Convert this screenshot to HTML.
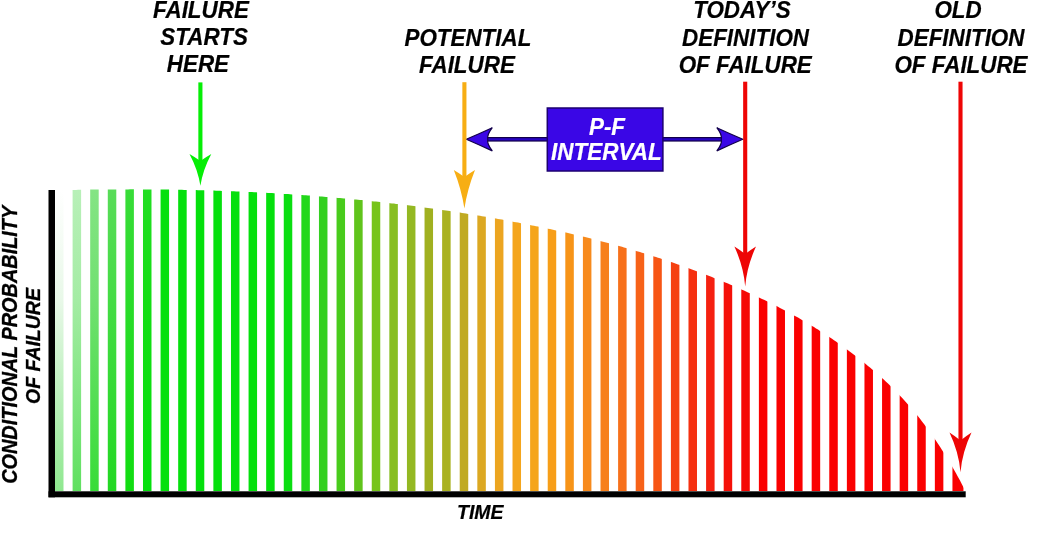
<!DOCTYPE html>
<html><head><meta charset="utf-8"><style>
html,body{margin:0;padding:0;background:#fff;width:1042px;height:540px;overflow:hidden}
svg{display:block;will-change:transform}
</style></head><body>
<svg width="1042" height="540" viewBox="0 0 1042 540">
<defs>
<linearGradient id="gb0" gradientUnits="userSpaceOnUse" x1="0" y1="190" x2="0" y2="490"><stop offset="0" stop-color="#ffffff"/><stop offset="0.37" stop-color="#e8f8e8"/><stop offset="1" stop-color="#90e890"/></linearGradient><linearGradient id="gb1" gradientUnits="userSpaceOnUse" x1="0" y1="190" x2="0" y2="490"><stop offset="0" stop-color="#b8f0b8"/><stop offset="0.37" stop-color="#a4eca4"/><stop offset="1" stop-color="#60e060"/></linearGradient><linearGradient id="gb2" gradientUnits="userSpaceOnUse" x1="0" y1="190" x2="0" y2="490"><stop offset="0" stop-color="#84e484"/><stop offset="0.37" stop-color="#70e070"/><stop offset="1" stop-color="#38dc38"/></linearGradient><linearGradient id="gb3" gradientUnits="userSpaceOnUse" x1="0" y1="190" x2="0" y2="490"><stop offset="0" stop-color="#58dc58"/><stop offset="0.37" stop-color="#44dc44"/><stop offset="1" stop-color="#22d822"/></linearGradient><linearGradient id="gb4" gradientUnits="userSpaceOnUse" x1="0" y1="190" x2="0" y2="490"><stop offset="0" stop-color="#38dc38"/><stop offset="0.37" stop-color="#2adc2a"/><stop offset="1" stop-color="#11dd11"/></linearGradient><linearGradient id="gb5" gradientUnits="userSpaceOnUse" x1="0" y1="190" x2="0" y2="490"><stop offset="0" stop-color="#22de22"/><stop offset="0.37" stop-color="#14de14"/><stop offset="1" stop-color="#04e00c"/></linearGradient>
<clipPath id="cc"><path d="M40,150 L40,190.7 L40.0,190.7 L42.0,190.6 L44.0,190.6 L46.0,190.5 L48.0,190.5 L50.0,190.4 L52.0,190.4 L54.0,190.3 L56.0,190.3 L58.0,190.2 L60.0,190.2 L62.0,190.1 L64.0,190.1 L66.0,190.1 L68.0,190.0 L70.0,190.0 L72.0,189.9 L74.0,189.9 L76.0,189.9 L78.0,189.8 L80.0,189.8 L82.0,189.8 L84.0,189.7 L86.0,189.7 L88.0,189.7 L90.0,189.6 L92.0,189.6 L94.0,189.6 L96.0,189.6 L98.0,189.5 L100.0,189.5 L102.0,189.5 L104.0,189.5 L106.0,189.5 L108.0,189.4 L110.0,189.4 L112.0,189.4 L114.0,189.4 L116.0,189.4 L118.0,189.4 L120.0,189.4 L122.0,189.4 L124.0,189.4 L126.0,189.4 L128.0,189.4 L130.0,189.3 L132.0,189.3 L134.0,189.3 L136.0,189.4 L138.0,189.4 L140.0,189.4 L142.0,189.4 L144.0,189.4 L146.0,189.4 L148.0,189.4 L150.0,189.4 L152.0,189.4 L154.0,189.4 L156.0,189.5 L158.0,189.5 L160.0,189.5 L162.0,189.5 L164.0,189.5 L166.0,189.6 L168.0,189.6 L170.0,189.6 L172.0,189.6 L174.0,189.7 L176.0,189.7 L178.0,189.7 L180.0,189.8 L182.0,189.8 L184.0,189.9 L186.0,189.9 L188.0,189.9 L190.0,190.0 L192.0,190.0 L194.0,190.1 L196.0,190.1 L198.0,190.2 L200.0,190.2 L202.0,190.3 L204.0,190.3 L206.0,190.4 L208.0,190.4 L210.0,190.5 L212.0,190.5 L214.0,190.6 L216.0,190.7 L218.0,190.7 L220.0,190.8 L222.0,190.9 L224.0,190.9 L226.0,191.0 L228.0,191.1 L230.0,191.2 L232.0,191.2 L234.0,191.3 L236.0,191.4 L238.0,191.5 L240.0,191.6 L242.0,191.7 L244.0,191.7 L246.0,191.8 L248.0,191.9 L250.0,192.0 L252.0,192.1 L254.0,192.2 L256.0,192.3 L258.0,192.4 L260.0,192.5 L262.0,192.6 L264.0,192.7 L266.0,192.8 L268.0,192.9 L270.0,193.0 L272.0,193.1 L274.0,193.3 L276.0,193.4 L278.0,193.5 L280.0,193.6 L282.0,193.7 L284.0,193.9 L286.0,194.0 L288.0,194.1 L290.0,194.2 L292.0,194.4 L294.0,194.5 L296.0,194.6 L298.0,194.8 L300.0,194.9 L302.0,195.0 L304.0,195.2 L306.0,195.3 L308.0,195.5 L310.0,195.6 L312.0,195.8 L314.0,195.9 L316.0,196.1 L318.0,196.2 L320.0,196.4 L322.0,196.5 L324.0,196.7 L326.0,196.9 L328.0,197.0 L330.0,197.2 L332.0,197.4 L334.0,197.5 L336.0,197.7 L338.0,197.9 L340.0,198.1 L342.0,198.2 L344.0,198.4 L346.0,198.6 L348.0,198.8 L350.0,199.0 L352.0,199.2 L354.0,199.4 L356.0,199.6 L358.0,199.8 L360.0,199.9 L362.0,200.1 L364.0,200.3 L366.0,200.6 L368.0,200.8 L370.0,201.0 L372.0,201.2 L374.0,201.4 L376.0,201.6 L378.0,201.8 L380.0,202.0 L382.0,202.3 L384.0,202.5 L386.0,202.7 L388.0,202.9 L390.0,203.2 L392.0,203.4 L394.0,203.6 L396.0,203.9 L398.0,204.1 L400.0,204.3 L402.0,204.6 L404.0,204.8 L406.0,205.1 L408.0,205.3 L410.0,205.6 L412.0,205.8 L414.0,206.1 L416.0,206.3 L418.0,206.6 L420.0,206.9 L422.0,207.1 L424.0,207.4 L426.0,207.7 L428.0,207.9 L430.0,208.2 L432.0,208.5 L434.0,208.8 L436.0,209.0 L438.0,209.3 L440.0,209.6 L442.0,209.9 L444.0,210.2 L446.0,210.5 L448.0,210.8 L450.0,211.1 L452.0,211.4 L454.0,211.7 L456.0,212.0 L458.0,212.3 L460.0,212.6 L462.0,212.9 L464.0,213.2 L466.0,213.5 L468.0,213.9 L470.0,214.2 L472.0,214.5 L474.0,214.8 L476.0,215.2 L478.0,215.5 L480.0,215.8 L482.0,216.2 L484.0,216.5 L486.0,216.8 L488.0,217.2 L490.0,217.5 L492.0,217.9 L494.0,218.2 L496.0,218.6 L498.0,218.9 L500.0,219.3 L502.0,219.6 L504.0,220.0 L506.0,220.4 L508.0,220.7 L510.0,221.1 L512.0,221.5 L514.0,221.9 L516.0,222.2 L518.0,222.6 L520.0,223.0 L522.0,223.4 L524.0,223.8 L526.0,224.2 L528.0,224.6 L530.0,225.0 L532.0,225.4 L534.0,225.8 L536.0,226.2 L538.0,226.6 L540.0,227.0 L542.0,227.4 L544.0,227.8 L546.0,228.2 L548.0,228.7 L550.0,229.1 L552.0,229.5 L554.0,229.9 L556.0,230.4 L558.0,230.8 L560.0,231.3 L562.0,231.7 L564.0,232.2 L566.0,232.6 L568.0,233.1 L570.0,233.5 L572.0,234.0 L574.0,234.5 L576.0,234.9 L578.0,235.4 L580.0,235.9 L582.0,236.4 L584.0,236.8 L586.0,237.3 L588.0,237.8 L590.0,238.3 L592.0,238.8 L594.0,239.3 L596.0,239.8 L598.0,240.3 L600.0,240.9 L602.0,241.4 L604.0,241.9 L606.0,242.4 L608.0,243.0 L610.0,243.5 L612.0,244.0 L614.0,244.6 L616.0,245.1 L618.0,245.7 L620.0,246.2 L622.0,246.8 L624.0,247.4 L626.0,247.9 L628.0,248.5 L630.0,249.1 L632.0,249.7 L634.0,250.3 L636.0,250.9 L638.0,251.5 L640.0,252.1 L642.0,252.7 L644.0,253.3 L646.0,253.9 L648.0,254.5 L650.0,255.1 L652.0,255.8 L654.0,256.4 L656.0,257.0 L658.0,257.7 L660.0,258.3 L662.0,259.0 L664.0,259.6 L666.0,260.3 L668.0,261.0 L670.0,261.7 L672.0,262.3 L674.0,263.0 L676.0,263.7 L678.0,264.4 L680.0,265.1 L682.0,265.8 L684.0,266.5 L686.0,267.2 L688.0,268.0 L690.0,268.7 L692.0,269.4 L694.0,270.2 L696.0,270.9 L698.0,271.7 L700.0,272.4 L702.0,273.2 L704.0,274.0 L706.0,274.7 L708.0,275.5 L710.0,276.3 L712.0,277.1 L714.0,277.9 L716.0,278.7 L718.0,279.5 L720.0,280.3 L722.0,281.1 L724.0,282.0 L726.0,282.8 L728.0,283.6 L730.0,284.5 L732.0,285.3 L734.0,286.2 L736.0,287.0 L738.0,287.9 L740.0,288.8 L742.0,289.7 L744.0,290.6 L746.0,291.4 L748.0,292.4 L750.0,293.3 L752.0,294.2 L754.0,295.1 L756.0,296.0 L758.0,297.0 L760.0,297.9 L762.0,298.9 L764.0,299.8 L766.0,300.8 L768.0,301.8 L770.0,302.8 L772.0,303.8 L774.0,304.8 L776.0,305.8 L778.0,306.8 L780.0,307.9 L782.0,308.9 L784.0,310.0 L786.0,311.0 L788.0,312.1 L790.0,313.2 L792.0,314.3 L794.0,315.4 L796.0,316.5 L798.0,317.6 L800.0,318.8 L802.0,319.9 L804.0,321.1 L806.0,322.3 L808.0,323.5 L810.0,324.7 L812.0,325.9 L814.0,327.1 L816.0,328.4 L818.0,329.6 L820.0,330.9 L822.0,332.2 L824.0,333.5 L826.0,334.8 L828.0,336.1 L830.0,337.4 L832.0,338.8 L834.0,340.2 L836.0,341.5 L838.0,342.9 L840.0,344.4 L842.0,345.8 L844.0,347.2 L846.0,348.7 L848.0,350.2 L850.0,351.7 L852.0,353.2 L854.0,354.7 L856.0,356.2 L858.0,357.8 L860.0,359.4 L862.0,361.0 L864.0,362.6 L866.0,364.2 L868.0,365.9 L870.0,367.5 L872.0,369.2 L874.0,370.9 L876.0,372.7 L878.0,374.4 L880.0,376.2 L882.0,378.0 L884.0,379.8 L886.0,381.7 L888.0,383.6 L890.0,385.5 L892.0,387.5 L894.0,389.5 L896.0,391.5 L898.0,393.6 L900.0,395.7 L902.0,397.8 L904.0,400.0 L906.0,402.2 L908.0,404.4 L910.0,406.7 L912.0,409.0 L914.0,411.4 L916.0,413.8 L918.0,416.3 L920.0,418.8 L922.0,421.4 L924.0,424.0 L926.0,426.7 L928.0,429.4 L930.0,432.1 L932.0,435.0 L934.0,437.8 L936.0,440.8 L938.0,443.7 L940.0,446.8 L942.0,449.9 L944.0,453.0 L946.0,456.3 L948.0,459.6 L950.0,462.9 L952.0,466.3 L954.0,469.8 L956.0,473.3 L958.0,476.9 L960.0,480.6 L962.0,484.4 L964.0,488.2 L964,490 L964,520 L40,520 Z"/></clipPath>
</defs>
<rect width="1042" height="540" fill="#fff"/>
<g clip-path="url(#cc)">
<rect x="55.00" y="180" width="8.5" height="311" fill="url(#gb0)"/>
<rect x="72.60" y="180" width="8.5" height="311" fill="url(#gb1)"/>
<rect x="90.19" y="180" width="8.5" height="311" fill="url(#gb2)"/>
<rect x="107.79" y="180" width="8.5" height="311" fill="url(#gb3)"/>
<rect x="125.39" y="180" width="8.5" height="311" fill="url(#gb4)"/>
<rect x="142.99" y="180" width="8.5" height="311" fill="url(#gb5)"/>
<rect x="160.58" y="180" width="8.5" height="311" fill="#06e00c"/>
<rect x="178.18" y="180" width="8.5" height="311" fill="#04e00c"/>
<rect x="195.78" y="180" width="8.5" height="311" fill="#04e00c"/>
<rect x="213.37" y="180" width="8.5" height="311" fill="#04e00c"/>
<rect x="230.97" y="180" width="8.5" height="311" fill="#04e00c"/>
<rect x="248.57" y="180" width="8.5" height="311" fill="#04e00c"/>
<rect x="266.16" y="180" width="8.5" height="311" fill="#04e00c"/>
<rect x="283.76" y="180" width="8.5" height="311" fill="#0ade10"/>
<rect x="301.36" y="180" width="8.5" height="311" fill="#22d81a"/>
<rect x="318.96" y="180" width="8.5" height="311" fill="#33d020"/>
<rect x="336.55" y="180" width="8.5" height="311" fill="#48cc1c"/>
<rect x="354.15" y="180" width="8.5" height="311" fill="#60c41c"/>
<rect x="371.75" y="180" width="8.5" height="311" fill="#77c41a"/>
<rect x="389.34" y="180" width="8.5" height="311" fill="#88be22"/>
<rect x="406.94" y="180" width="8.5" height="311" fill="#94b822"/>
<rect x="424.54" y="180" width="8.5" height="311" fill="#a0b020"/>
<rect x="442.13" y="180" width="8.5" height="311" fill="#aab220"/>
<rect x="459.73" y="180" width="8.5" height="311" fill="#c0aa22"/>
<rect x="477.33" y="180" width="8.5" height="311" fill="#dca822"/>
<rect x="494.93" y="180" width="8.5" height="311" fill="#eca520"/>
<rect x="512.52" y="180" width="8.5" height="311" fill="#f4a51c"/>
<rect x="530.12" y="180" width="8.5" height="311" fill="#f5a51a"/>
<rect x="547.72" y="180" width="8.5" height="311" fill="#f79e18"/>
<rect x="565.31" y="180" width="8.5" height="311" fill="#f79418"/>
<rect x="582.91" y="180" width="8.5" height="311" fill="#f78a1c"/>
<rect x="600.51" y="180" width="8.5" height="311" fill="#f7801c"/>
<rect x="618.10" y="180" width="8.5" height="311" fill="#f7701a"/>
<rect x="635.70" y="180" width="8.5" height="311" fill="#f76218"/>
<rect x="653.30" y="180" width="8.5" height="311" fill="#f75514"/>
<rect x="670.90" y="180" width="8.5" height="311" fill="#f54010"/>
<rect x="688.49" y="180" width="8.5" height="311" fill="#f53010"/>
<rect x="706.09" y="180" width="8.5" height="311" fill="#f52010"/>
<rect x="723.69" y="180" width="8.5" height="311" fill="#f51008"/>
<rect x="741.28" y="180" width="8.5" height="311" fill="#f50805"/>
<rect x="758.88" y="180" width="8.5" height="311" fill="#fa0000"/>
<rect x="776.48" y="180" width="8.5" height="311" fill="#fa0000"/>
<rect x="794.07" y="180" width="8.5" height="311" fill="#fa0000"/>
<rect x="811.67" y="180" width="8.5" height="311" fill="#fa0000"/>
<rect x="829.27" y="180" width="8.5" height="311" fill="#fa0000"/>
<rect x="846.87" y="180" width="8.5" height="311" fill="#fa0000"/>
<rect x="864.46" y="180" width="8.5" height="311" fill="#fa0000"/>
<rect x="882.06" y="180" width="8.5" height="311" fill="#fa0000"/>
<rect x="899.66" y="180" width="8.5" height="311" fill="#fa0000"/>
<rect x="917.25" y="180" width="8.5" height="311" fill="#fa0000"/>
<rect x="934.85" y="180" width="8.5" height="311" fill="#fa0000"/>
<rect x="952.45" y="180" width="11" height="311" fill="#fa0000"/>
</g>
<rect x="48.5" y="190" width="6.5" height="307.3" fill="#000"/>
<rect x="48.5" y="491.3" width="917.2" height="6" fill="#000"/>

<rect x="480" y="137.6" width="250" height="3.4" fill="#2804c4" stroke="#12004a" stroke-width="1.2"/>
<path d="M466.3,139.3 Q478.3,134.10000000000002 492.3,127.70000000000002 Q486.8,134.8 487.8,139.3 Q486.8,143.8 492.3,150.9 Q478.3,144.5 466.3,139.3 Z" fill="#3a06e6" stroke="#12004a" stroke-width="1.2"/>
<path d="M742.8,139.3 Q730.8,134.10000000000002 716.8,127.70000000000002 Q722.3,134.8 721.3,139.3 Q722.3,143.8 716.8,150.9 Q730.8,144.5 742.8,139.3 Z" fill="#3a06e6" stroke="#12004a" stroke-width="1.2"/>
<rect x="547.3" y="108" width="115.6" height="63" fill="#3a06e6" stroke="#1c0070" stroke-width="1.5"/>

<rect x="198.35" y="82.4" width="4.1" height="80.5" fill="#06ee06"/><path d="M200.4,185.8 Q198.00,169.85 189.5,153.9 Q194.95,157.05 200.4,160.9 Q205.85,157.05 211.3,153.9 Q202.80,169.85 200.4,185.8 Z" fill="#06ee06"/><rect x="462.34999999999997" y="82.2" width="4.1" height="96.8" fill="#f7ae14"/><path d="M464.4,208.4 Q461.43,189.20 453.79999999999995,170.0 Q459.10,173.15 464.4,177.0 Q469.70,173.15 475.0,170.0 Q467.37,189.20 464.4,208.4 Z" fill="#f7ae14"/><path d="M745.2,286.4 Q743.58,266.45 734.4000000000001,246.49999999999997 Q739.80,249.87 745.2,253.99999999999997 Q750.60,249.87 756.0,246.49999999999997 Q746.82,266.45 745.2,286.4 Z" fill="#fff" stroke="#fff" stroke-width="3" stroke-linejoin="round"/><rect x="743.1500000000001" y="81.7" width="4.1" height="174.29999999999995" fill="#ee0505"/><path d="M745.2,286.4 Q743.58,266.45 734.4000000000001,246.49999999999997 Q739.80,249.87 745.2,253.99999999999997 Q750.60,249.87 756.0,246.49999999999997 Q746.82,266.45 745.2,286.4 Z" fill="#ee0505"/><path d="M960.5,472.2 Q958.85,452.40 949.5,432.59999999999997 Q955.00,436.20 960.5,440.59999999999997 Q966.00,436.20 971.5,432.59999999999997 Q962.15,452.40 960.5,472.2 Z" fill="#fff" stroke="#fff" stroke-width="3" stroke-linejoin="round"/><rect x="958.45" y="81.7" width="4.1" height="360.9" fill="#ee0505"/><path d="M960.5,472.2 Q958.85,452.40 949.5,432.59999999999997 Q955.00,436.20 960.5,440.59999999999997 Q966.00,436.20 971.5,432.59999999999997 Q962.15,452.40 960.5,472.2 Z" fill="#ee0505"/>
<g font-family="Liberation Sans" font-weight="bold" font-style="italic">
<text transform="translate(200.92,17.84) scale(1.000,1.040)" text-anchor="middle" font-size="22.4" fill="#000" stroke="#000" stroke-width="0.2">FAILURE</text>
<text transform="translate(204.08,44.84) scale(1.000,1.040)" text-anchor="middle" font-size="22.4" fill="#000" stroke="#000" stroke-width="0.2">STARTS</text>
<text transform="translate(197.92,71.76) scale(1.000,1.040)" text-anchor="middle" font-size="22.4" fill="#000" stroke="#000" stroke-width="0.2">HERE</text>
<text transform="translate(467.88,45.70) scale(1.000,1.040)" text-anchor="middle" font-size="22.4" fill="#000" stroke="#000" stroke-width="0.2">POTENTIAL</text>
<text transform="translate(466.92,73.22) scale(1.000,1.040)" text-anchor="middle" font-size="22.4" fill="#000" stroke="#000" stroke-width="0.2">FAILURE</text>
<text transform="translate(741.88,17.84) scale(1.000,1.040)" text-anchor="middle" font-size="22.4" fill="#000" stroke="#000" stroke-width="0.2">TODAY’S</text>
<text transform="translate(745.52,45.80) scale(1.000,1.040)" text-anchor="middle" font-size="22.4" fill="#000" stroke="#000" stroke-width="0.2">DEFINITION</text>
<text transform="translate(745.20,73.30) scale(1.000,1.040)" text-anchor="middle" font-size="22.4" fill="#000" stroke="#000" stroke-width="0.2">OF FAILURE</text>
<text transform="translate(958.08,18.30) scale(1.000,1.040)" text-anchor="middle" font-size="22.4" fill="#000" stroke="#000" stroke-width="0.2">OLD</text>
<text transform="translate(961.00,45.96) scale(1.000,1.040)" text-anchor="middle" font-size="22.4" fill="#000" stroke="#000" stroke-width="0.2">DEFINITION</text>
<text transform="translate(961.00,73.30) scale(1.000,1.040)" text-anchor="middle" font-size="22.4" fill="#000" stroke="#000" stroke-width="0.2">OF FAILURE</text>
<text transform="translate(607.00,134.50) scale(1.000,1.040)" text-anchor="middle" font-size="22.4" fill="#fff" stroke="#fff" stroke-width="0.2">P-F</text>
<text transform="translate(606.40,160.10) scale(1.000,1.040)" text-anchor="middle" font-size="22.5" fill="#fff" stroke="#fff" stroke-width="0.2">INTERVAL</text>
<text transform="translate(480.32,519.20) scale(1.000,1.040)" text-anchor="middle" font-size="19.5" fill="#000" stroke="#000" stroke-width="0.2">TIME</text>
<text transform="translate(17.0,344.8) rotate(-90) scale(1,1.08)" text-anchor="middle" font-size="19.9" fill="#000" stroke="#000" stroke-width="0.3">CONDITIONAL PROBABILITY</text>
<text transform="translate(40.2,346.0) rotate(-90) scale(1,1.07)" text-anchor="middle" font-size="19.5" fill="#000" stroke="#000" stroke-width="0.3">OF FAILURE</text>
</g>
</svg>
</body></html>
